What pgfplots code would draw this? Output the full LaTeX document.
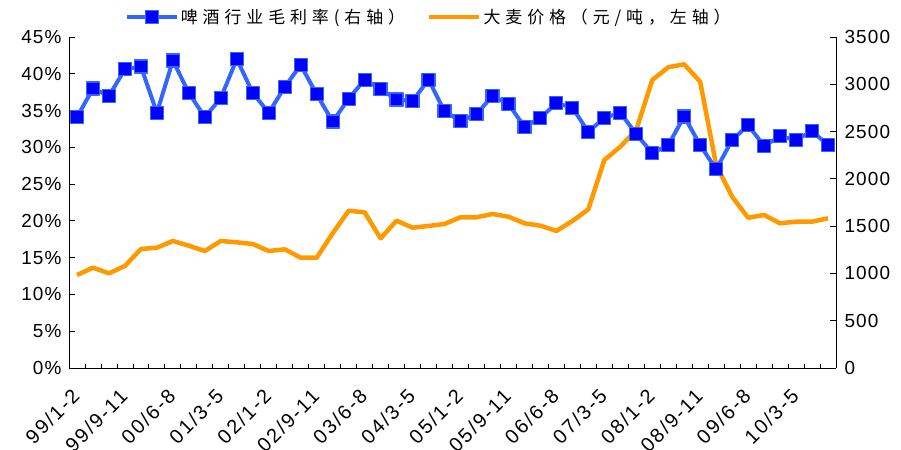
\documentclass[border=0pt]{standalone}
\usepackage{fontspec}
\setmainfont{Liberation Sans}
\newfontfamily\cjk{Noto Sans CJK SC}[LetterSpace=29]
\newfontfamily\xlab{Liberation Sans}[LetterSpace=10]
\newfontfamily\ylab{Liberation Sans}[LetterSpace=6]
\usepackage{pgfplots}
\pgfplotsset{compat=1.18}
\definecolor{bline}{HTML}{3366FF}
\definecolor{bfill}{HTML}{0000FF}
\definecolor{orng}{HTML}{FF9900}
\begin{document}
\begin{tikzpicture}
\pgfplotsset{
  every axis/.append style={
    scale only axis, width=767bp, height=331bp,
    xmin=-0.5, xmax=47.5, clip=false,
    tick align=inside,
    major tick length=6bp, minor tick length=4bp,
    /pgf/number format/assume math mode=true,
    yticklabel style={font=\ylab\fontsize{19}{22}\selectfont},
    xticklabel style={font=\xlab\fontsize{20}{22}\selectfont},
    axis line style={black, line width=0.8bp},
    every tick/.style={black, line width=0.8bp},
  }
}
% right axis: barley price
\begin{axis}[
  axis y line*=right, hide x axis,
  ymin=0, ymax=3500, ytick={0,500,...,3500},
  yticklabel style={/pgf/number format/1000 sep={}, xshift=5bp},
]
\addplot[orng, line width=4.5bp, line join=round, no marks] coordinates {
(0,983) (1,1061) (2,1001) (3,1079) (4,1258) (5,1272) (6,1343) (7,1293)
(8,1237) (9,1343) (10,1329) (11,1311) (12,1237) (13,1255) (14,1166) (15,1166)
(16,1424) (17,1663) (18,1646) (19,1371) (20,1558) (21,1484) (22,1502) (23,1523)
(24,1594) (25,1594) (26,1628) (27,1600) (28,1530) (29,1505) (30,1449) (31,1554)
(32,1678) (33,2199) (34,2340) (35,2517) (36,3045) (37,3180) (38,3211) (39,3027)
(40,2147) (41,1811) (42,1589) (43,1618) (44,1530) (45,1547) (46,1547) (47,1583)
};
\end{axis}
% left axis: beer margin
\begin{axis}[
  axis y line*=left, axis x line*=bottom,
  ymin=0, ymax=45, ytick={0,5,...,45},
  yticklabel={\pgfmathprintnumber{\tick}\%},
  yticklabel style={xshift=-4bp},
  xtick={0,3,...,45},
  xticklabels={99/1-2,99/9-11,00/6-8,01/3-5,02/1-2,02/9-11,03/6-8,04/3-5,05/1-2,05/9-11,06/6-8,07/3-5,08/1-2,08/9-11,09/6-8,10/3-5},
  major x tick style={draw=none},
  minor xtick={-0.5,0.5,...,47.5},
  xticklabel style={rotate=45, anchor=north east, xshift=-15bp, yshift=-6bp},
  legend columns=2,
  legend style={draw=none, fill=none, at={(axis description cs:0.469,1.06)}, anchor=center,
    font=\cjk\fontsize{17}{18}\selectfont, inner sep=0pt,
    /tikz/every even column/.append style={column sep=20bp}},
  legend cell align=left,
  legend image code/.code={
    \draw[mark repeat=2,mark phase=2,#1] plot coordinates {(0bp,0bp) (25bp,0bp) (50bp,0bp)};
  },
]
\addplot[bline, line width=4bp, line join=round, mark=square*,
  mark size=6.5bp, mark options={fill=bfill, draw=bline, line width=1.2bp}] coordinates {
(0,34.1) (1,38.0) (2,37.0) (3,40.6) (4,41.0) (5,34.7) (6,41.8) (7,37.4)
(8,34.1) (9,36.7) (10,42.0) (11,37.4) (12,34.7) (13,38.2) (14,41.2) (15,37.2)
(16,33.5) (17,36.6) (18,39.2) (19,37.9) (20,36.5) (21,36.3) (22,39.2) (23,34.9)
(24,33.6) (25,34.5) (26,37.0) (27,35.9) (28,32.8) (29,34.0) (30,36.0) (31,35.4)
(32,32.1) (33,34.0) (34,34.7) (35,31.8) (36,29.2) (37,30.3) (38,34.2) (39,30.3)
(40,27.0) (41,31.0) (42,33.0) (43,30.2) (44,31.5) (45,31.0) (46,32.2) (47,30.3)
};
\addlegendentry{啤酒行业毛利率(右轴）}
\addlegendimage{orng, line width=4.5bp, no marks}
\addlegendentry{大麦价格（元/吨，左轴）}
\end{axis}
\pgfresetboundingbox
\path[use as bounding box] (-69bp,-82bp) rectangle (832bp,368bp);
\end{tikzpicture}
\end{document}
